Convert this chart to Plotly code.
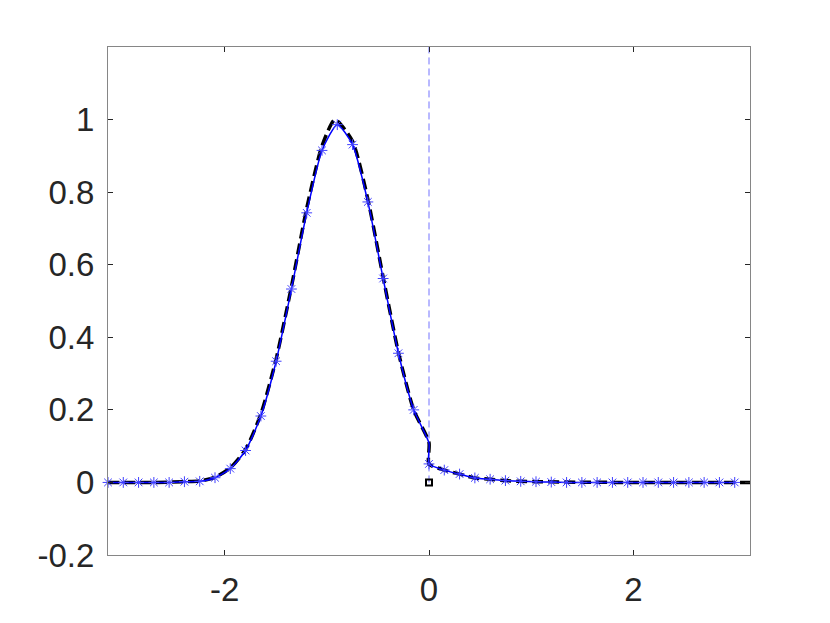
import numpy as np
import plotly.graph_objects as go

# grid of the numerical solution (42 points on [-pi, pi))
x_grid = [-np.pi + k * 2 * np.pi / 42 for k in range(42)]

# numerical solution (blue, asterisks)
u_num = [0.0, 0.0, 0.0, 0.0, 0.0, 0.002, 0.003, 0.013, 0.038, 0.088,
         0.183, 0.334, 0.533, 0.743, 0.915, 0.986, 0.931, 0.773, 0.562, 0.356,
         0.200, 0.051, 0.034, 0.023, 0.0124, 0.0088, 0.005, 0.003, 0.002, 0.001,
         0.0, 0.0, 0.0, 0.0, 0.0, 0.0, 0.0, 0.0, 0.0, 0.0,
         0.0, 0.0]
# left limit of the numerical line at the jump
u_num_left = 0.108

# exact solution (black dashed), read at the grid points plus the peak and the jump
x_exact = [-3.1416, -2.692, -2.393, -2.244, -2.094, -1.945, -1.795, -1.646, -1.496,
           -1.346, -1.197, -1.047, -0.920, -0.748, -0.598, -0.449, -0.299, -0.150,
           -0.0001, 0.0, 0.150, 0.299, 0.449, 0.598, 0.748, 0.898, 1.047, 1.5, 2.0, 2.5, 3.1416]
u_exact = [0.0, 0.0, 0.002, 0.004, 0.014, 0.040, 0.091, 0.188, 0.340, 0.540,
           0.755, 0.928, 1.000, 0.940, 0.780, 0.566, 0.358, 0.200, 0.110, 0.051,
           0.034, 0.023, 0.0124, 0.0088, 0.005, 0.003, 0.002, 0.0005, 0.0, 0.0, 0.0]

# marker of the discontinuity
x_jump = [0.0]
y_jump = [0.0]

fig = go.Figure()

fig.add_trace(go.Scatter(
    x=[0, 0], y=[0, 1.2],
    mode='lines',
    line=dict(color='#7373ff', width=1, dash='7px,4px'),
    showlegend=False
))

fig.add_trace(go.Scatter(
    x=x_exact, y=u_exact,
    mode='lines',
    line=dict(color='black', width=3.5, dash='11px,5px', shape='spline', smoothing=0.6),
    showlegend=False
))

# blue line: left part, vertical drop, right part
x_line = x_grid[:21] + [0.0] + x_grid[21:]
y_line = u_num[:21] + [u_num_left] + u_num[21:]
fig.add_trace(go.Scatter(
    x=x_line, y=y_line,
    mode='lines',
    line=dict(color='#0000ff', width=1.5, shape='spline', smoothing=0.6),
    showlegend=False
))

fig.add_trace(go.Scatter(
    x=x_grid, y=u_num,
    mode='markers',
    marker=dict(symbol='asterisk-open', size=9, color='#4040ff', line=dict(color='#4040ff', width=1)),
    cliponaxis=False,
    showlegend=False
))

fig.add_trace(go.Scatter(
    x=x_jump, y=y_jump,
    mode='markers',
    marker=dict(symbol='square-open', size=6, color='black', line=dict(color='black', width=2)),
    cliponaxis=False,
    showlegend=False
))

axis_style = dict(
    showline=True, linecolor='#868686', linewidth=1, mirror='ticks',
    ticks='inside', ticklen=5, tickcolor='#262626',
    showgrid=False, zeroline=False,
    tickfont=dict(family='Liberation Sans, Arial', size=33, color='#262626'),
)

fig.update_layout(
    width=830, height=623,
    paper_bgcolor='white', plot_bgcolor='white',
    margin=dict(l=100, r=88, t=39, b=76),
    xaxis=dict(range=[-np.pi, np.pi], tickvals=[-2, 0, 2], ticktext=['-2', '0', '2'],
               ticklabelstandoff=5, **axis_style),
    yaxis=dict(range=[-0.2, 1.2], tickvals=[-0.2, 0, 0.2, 0.4, 0.6, 0.8, 1.0],
               ticktext=['-0.2', '0', '0.2', '0.4', '0.6', '0.8', '1'],
               ticklabelstandoff=6, **axis_style),
)

fig.write_html("out.html")
